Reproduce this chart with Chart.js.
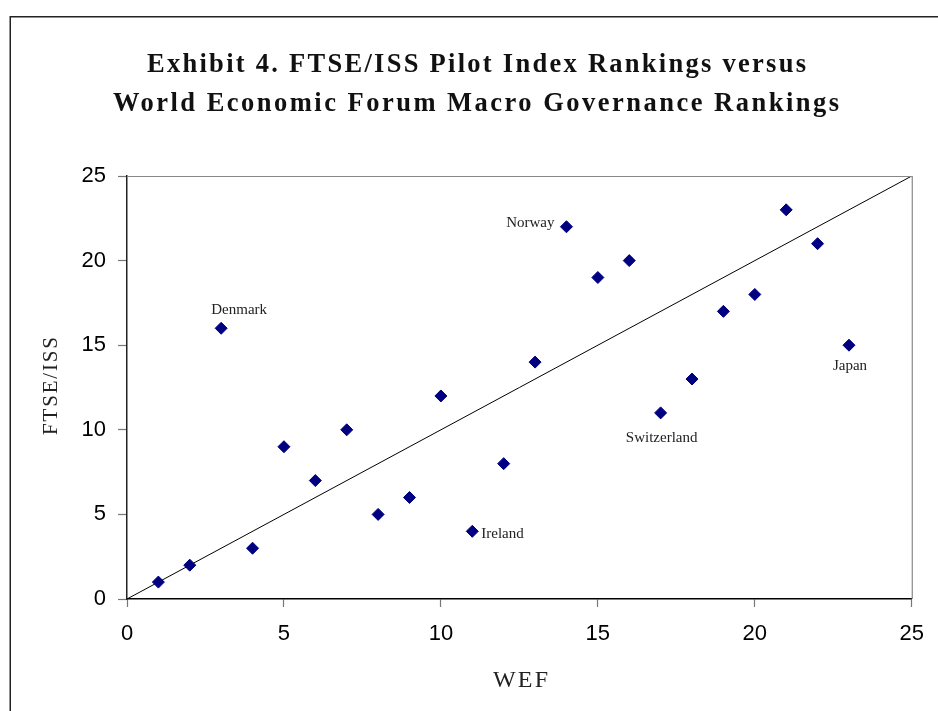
<!DOCTYPE html>
<html>
<head>
<meta charset="utf-8">
<script src="https://cdn.jsdelivr.net/npm/chart.js@4/dist/chart.umd.min.js"></script>
<style>
  html, body { margin: 0; padding: 0; background: #fff; }
  #wrap { width: 938px; height: 711px; position: relative; }
</style>
</head>
<body>
<div id="wrap"><canvas id="c" width="938" height="711"></canvas></div>
<script>
// ---- data ----
const titleLines = ['Exhibit 4. FTSE/ISS Pilot Index Rankings versus', 'World Economic Forum Macro Governance Rankings'];
const xAxisTitle = 'WEF';
const yAxisTitle = 'FTSE/ISS';
const wefRank  = [1, 2, 3, 4, 5, 6, 7, 8, 9, 10, 11, 12, 13, 14, 15, 16, 17, 18, 19, 20, 21, 22, 23];
const ftseRank = [1, 2, 16, 3, 9, 7, 10, 5, 6, 12, 4, 8, 14, 22, 19, 20, 11, 13, 17, 18, 23, 21, 15];
const countryNames = ['', '', 'Denmark', '', '', '', '', '', '', '', 'Ireland', '', '', 'Norway', '', '', 'Switzerland', '', '', '', '', '', 'Japan'];
const lineX = [0, 25];
const lineY = [0, 25];
const xTicks = [0, 5, 10, 15, 20, 25];
const yTicks = [0, 5, 10, 15, 20, 25];

// label placement (style only): offset from point and alignment
const labelPlacement = {
  'Denmark':     { dx: 18,  dy: -18, align: 'center' },
  'Norway':      { dx: -12, dy: -4,  align: 'right' },
  'Ireland':     { dx: 9,   dy: 3,   align: 'left' },
  'Switzerland': { dx: 1,   dy: 25,  align: 'center' },
  'Japan':       { dx: 1,   dy: 21,  align: 'center' }
};

const scatterData = wefRank.map((x, i) => ({ x: x, y: ftseRank[i] }));
const lineData = lineX.map((x, i) => ({ x: x, y: lineY[i] }));

function drawSpaced(ctx, text, left, y, targetWidth) {
  ctx.letterSpacing = '0px';
  const w = ctx.measureText(text).width;
  const ls = (targetWidth - w) / (text.length - 1);
  ctx.letterSpacing = ls + 'px';
  ctx.textAlign = 'left';
  ctx.fillText(text, left, y);
  ctx.letterSpacing = '0px';
}

const decorPlugin = {
  id: 'decor',
  beforeDraw(chart) {
    const ctx = chart.ctx;
    ctx.save();
    ctx.fillStyle = '#fff';
    ctx.fillRect(0, 0, chart.width, chart.height);
    // outer frame
    ctx.strokeStyle = '#222';
    ctx.lineWidth = 1.5;
    ctx.strokeRect(10.25, 16.75, 1000, 1000);
    ctx.restore();
  },
  afterDatasetsDraw(chart) {
    const ctx = chart.ctx;
    const xs = chart.scales.x, ys = chart.scales.y;
    const a = chart.chartArea;
    ctx.save();
    // plot border top & right (gray)
    ctx.strokeStyle = '#888';
    ctx.lineWidth = 1.2;
    ctx.beginPath();
    ctx.moveTo(a.left, a.top + 0.5);
    ctx.lineTo(a.right + 0.5, a.top + 0.5);
    ctx.lineTo(a.right + 0.5, a.bottom);
    ctx.stroke();

    // title
    ctx.fillStyle = '#111';
    ctx.textBaseline = 'alphabetic';
    ctx.font = 'bold 26.5px "Liberation Serif", "DejaVu Serif", serif';
    drawSpaced(ctx, titleLines[0], 147, 72, 659);
    drawSpaced(ctx, titleLines[1], 113, 111, 726);

    // axis titles
    ctx.fillStyle = '#222';
    ctx.font = '24px "Liberation Serif", serif';
    drawSpaced(ctx, xAxisTitle, 493, 687, 55);
    ctx.save();
    ctx.translate(57, 435);
    ctx.rotate(-Math.PI / 2);
    ctx.font = '21px "Liberation Serif", serif';
    drawSpaced(ctx, yAxisTitle, 0, 0, 98);
    ctx.restore();

    // data labels
    ctx.font = '15px "Liberation Serif", serif';
    ctx.fillStyle = '#222';
    ctx.textBaseline = 'middle';
    countryNames.forEach((name, i) => {
      if (!name) return;
      const p = labelPlacement[name];
      const px = xs.getPixelForValue(wefRank[i]);
      const py = ys.getPixelForValue(ftseRank[i]);
      ctx.textAlign = p.align;
      ctx.fillText(name, px + p.dx, py + p.dy);
    });
    ctx.restore();
  }
};

new Chart(document.getElementById('c'), {
  data: {
    datasets: [
      {
        type: 'scatter',
        label: 'Countries',
        data: scatterData,
        pointStyle: 'rectRot',
        pointRadius: 6,
        pointHoverRadius: 6,
        pointBackgroundColor: '#000080',
        pointBorderColor: '#000080',
        pointBorderWidth: 1,
        order: 1
      },
      {
        type: 'line',
        label: 'Diagonal',
        data: lineData,
        borderColor: '#000',
        borderWidth: 1,
        pointRadius: 0,
        fill: false,
        tension: 0,
        order: 2
      }
    ]
  },
  options: {
    responsive: false,
    animation: false,
    devicePixelRatio: 1,
    layout: { padding: { top: 176, right: 25, left: 0, bottom: 0 } },
    plugins: {
      legend: { display: false },
      title: { display: false },
      tooltip: { enabled: false }
    },
    scales: {
      x: {
        type: 'linear',
        min: 0, max: 25,
        afterFit(scale) { scale.height = 112; },
        afterBuildTicks(scale) { scale.ticks = xTicks.map(v => ({ value: v })); },
        grid: { drawOnChartArea: false, tickLength: 8, tickColor: '#777', tickWidth: 1.2 },
        border: { color: '#000', width: 1.5 },
        ticks: { color: '#000', padding: 14, font: { family: '"Liberation Sans", Arial, sans-serif', size: 22 } }
      },
      y: {
        type: 'linear',
        min: 0, max: 25,
        afterFit(scale) { scale.width = 127; },
        afterBuildTicks(scale) { scale.ticks = yTicks.map(v => ({ value: v })); },
        grid: { drawOnChartArea: false, tickLength: 9, tickColor: '#777', tickWidth: 1.2 },
        border: { color: '#222', width: 1.5 },
        ticks: { color: '#000', padding: 12, font: { family: '"Liberation Sans", Arial, sans-serif', size: 22 } }
      }
    }
  },
  plugins: [decorPlugin]
});
</script>
</body>
</html>
